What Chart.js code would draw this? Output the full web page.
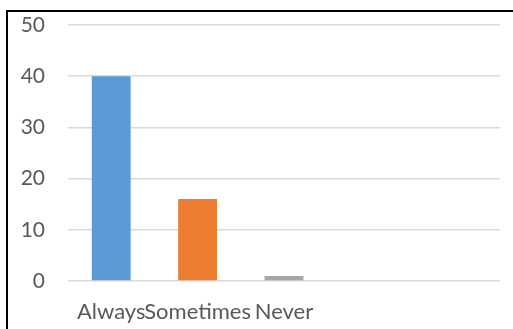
<!DOCTYPE html>
<html>
<head>
<meta charset="utf-8">
<script src="https://cdn.jsdelivr.net/npm/chart.js@4"></script>
<style>
  html, body { margin: 0; padding: 0; background: #fff; }
  .wrap { position: relative; width: 513px; height: 329px; overflow: hidden; }
  .frame { position: absolute; left: 6px; top: 10px; width: 600px; height: 400px;
           border-top: 2px solid #000; border-left: 2px solid #000; pointer-events: none; }
</style>
</head>
<body>
<div class="wrap">
  <canvas id="chart" width="513" height="329"></canvas>
  <div class="frame"></div>
</div>
<script>
  // dados do grafico
  const categories = ['Always', 'Sometimes', 'Never', '', ''];
  const values = [40, 16, 1, null, null];
  const barColors = ['#5B9BD5', '#ED7D31', '#A5A5A5', '#A5A5A5', '#A5A5A5'];
  const yTicks = [0, 10, 20, 30, 40, 50];

  const textColor = '#595959';
  const fontFamily = 'Lato, "Liberation Sans", sans-serif';

  const ctx = document.getElementById('chart').getContext('2d');
  new Chart(ctx, {
    type: 'bar',
    data: {
      labels: categories,
      datasets: [{
        data: values,
        backgroundColor: barColors,
        borderWidth: 0,
        barPercentage: 0.45,
        categoryPercentage: 1.0
      }]
    },
    options: {
      responsive: false,
      animation: false,
      layout: { padding: { top: 25, right: 13, bottom: 0, left: 0 } },
      plugins: { legend: { display: false }, tooltip: { enabled: false } },
      scales: {
        x: {
          grid: { display: false, drawTicks: false },
          border: { display: false },
          ticks: {
            autoSkip: false, maxRotation: 0, minRotation: 0,
            padding: 18, color: textColor,
            font: { family: fontFamily, size: 22 }
          },
          afterFit: scale => { scale.height = 48; }
        },
        y: {
          min: 0, max: 50,
          afterBuildTicks: scale => { scale.ticks = yTicks.map(v => ({ value: v })); },
          grid: { color: '#D9D9D9', lineWidth: 1.5, drawTicks: false },
          border: { display: false },
          ticks: {
            padding: 23, color: textColor,
            font: { family: fontFamily, size: 21 }
          },
          // a padding dos ticks empurra o topo, por isso zera aqui
          afterFit: scale => {
            scale.width = 68;
            scale.paddingTop = 0;
            scale.paddingBottom = 0;
          }
        }
      }
    }
  });
</script>
</body>
</html>
